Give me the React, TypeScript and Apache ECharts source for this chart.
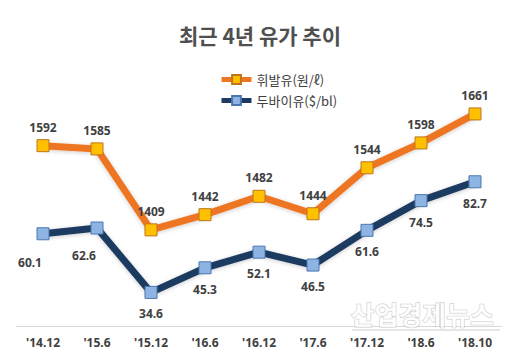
import React, { useEffect, useRef } from "react";
import * as echarts from "echarts";

const categories = ["'14.12", "'15.6", "'15.12", "'16.6", "'16.12", "'17.6", "'17.12", "'18.6", "'18.10"];
const gasoline = [1592, 1585, 1409, 1442, 1482, 1444, 1544, 1598, 1661];
const dubai = [60.1, 62.6, 34.6, 45.3, 52.1, 46.5, 61.6, 74.5, 82.7];
const titleText = "최근 4년 유가 추이";
const gasName = "휘발유(원/ℓ)";
const dubaiName = "두바이유($/bl)";

const KR = "'Noto Sans CJK KR', 'Noto Sans', sans-serif";

export default function App() {
  const ref = useRef<HTMLDivElement>(null);
  useEffect(() => {
    if (!ref.current) return;
    const chart = echarts.init(ref.current, null, { renderer: "svg" });
    const dubaiData = dubai.map((v, i) => {
      if (i === 0) return { value: v, label: { offset: [-13, 7] } };
      if (i === 1) return { value: v, label: { offset: [-13, 6] } };
      return v;
    });
    chart.setOption({
      animation: false,
      backgroundColor: "#ffffff",
      title: {
        text: titleText,
        left: "center",
        top: 19,
        textStyle: { fontFamily: KR, fontSize: 21, fontWeight: "bold", color: "#4f4f4f" },
      },
      legend: {
        orient: "vertical",
        left: 214,
        top: 68,
        itemWidth: 30,
        itemHeight: 11,
        itemGap: 8,
        lineStyle: { width: 5, shadowBlur: 0 },
        textStyle: { fontFamily: KR, fontSize: 13, color: "#404040" },
        data: [gasName, dubaiName],
      },
      grid: { left: 16, right: 18, top: 50, bottom: 38, containLabel: false },
      xAxis: {
        type: "category",
        data: categories,
        boundaryGap: true,
        axisLine: { lineStyle: { color: "#d9d9d9", width: 1 } },
        axisTick: { show: false },
        axisLabel: {
          fontFamily: "'Noto Sans', sans-serif",
          fontSize: 12,
          fontWeight: "bold",
          color: "#404040",
          margin: 10,
        },
      },
      yAxis: [
        { type: "value", min: 1200, max: 1800, show: false, splitLine: { show: false } },
        { type: "value", min: 20, max: 140, show: false, splitLine: { show: false } },
      ],
      series: [
        {
          name: gasName,
          type: "line",
          yAxisIndex: 0,
          data: gasoline,
          symbol: "rect",
          symbolSize: 12,
          lineStyle: { color: "#EE7623", width: 7, shadowBlur: 4, shadowColor: "rgba(0,0,0,0.2)", shadowOffsetY: 1 },
          itemStyle: { color: "#FFC000", borderColor: "#C0741A", borderWidth: 1 },
          label: {
            show: true,
            position: "top",
            distance: 6,
            fontFamily: "'Noto Sans', sans-serif",
            fontSize: 12,
            fontWeight: "bold",
            color: "#404040",
          },
        },
        {
          name: dubaiName,
          type: "line",
          yAxisIndex: 1,
          data: dubaiData,
          symbol: "rect",
          symbolSize: 12,
          lineStyle: { color: "#1F3A60", width: 7, shadowBlur: 4, shadowColor: "rgba(0,0,0,0.2)", shadowOffsetY: 1 },
          itemStyle: { color: "#8EB4E3", borderColor: "#4A78B0", borderWidth: 1 },
          label: {
            show: true,
            position: "bottom",
            distance: 9,
            fontFamily: "'Noto Sans', sans-serif",
            fontSize: 12,
            fontWeight: "bold",
            color: "#404040",
          },
        },
      ],
      graphic: [
        {
          type: "text",
          left: 350,
          top: 300,
          z: 100,
          style: {
            text: "산업경제뉴스",
            fontFamily: KR,
            fontSize: 26,
            fontWeight: "bold",
            fill: "rgba(255,255,255,0.85)",
            stroke: "rgba(150,150,150,0.55)",
            lineWidth: 1,
          },
        },
        {
          type: "line",
          z: 100,
          shape: { x1: 352, y1: 330, x2: 500, y2: 330 },
          style: { stroke: "rgba(170,170,170,0.6)", lineWidth: 1 },
        },
      ],
    });
    return () => chart.dispose();
  }, []);
  return <div ref={ref} style={{ width: 520, height: 364, position: "absolute", left: 0, top: 0 }} />;
}
